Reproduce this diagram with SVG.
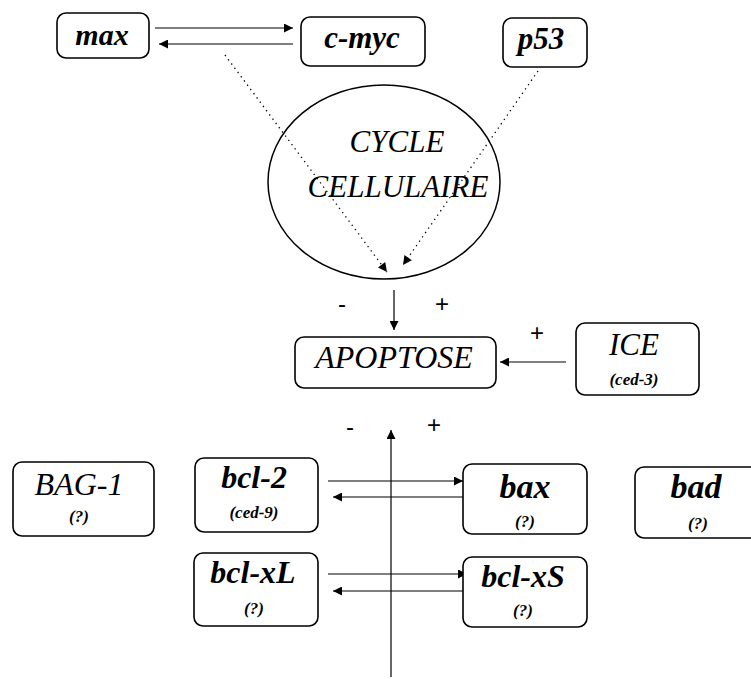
<svg xmlns="http://www.w3.org/2000/svg" width="751" height="679" viewBox="0 0 751 679">
<style>
.box{fill:#fff;stroke:#000;stroke-width:1.6}
.t{font-family:"Liberation Serif","Times New Roman",serif;font-style:italic;text-anchor:middle;fill:#000}
.b{font-weight:bold}
.big{font-size:31px}
.sm{font-size:17px;font-weight:bold}
.pm{font-family:"Liberation Sans",sans-serif;font-size:24px;text-anchor:middle;fill:#000}
.ln{stroke:#000;stroke-width:1.2;fill:none}
.dot{stroke:#000;stroke-width:1.3;fill:none;stroke-dasharray:1.3 4}
</style>
<defs>
<marker id="ah" viewBox="0 0 10 10" refX="10" refY="5" markerWidth="10" markerHeight="9" markerUnits="userSpaceOnUse" orient="auto">
<path d="M0,0 L10,5 L0,10 z" fill="#000"/>
</marker>
</defs>
<g id="connectors">
<line class="ln" x1="155" y1="28" x2="293" y2="28" marker-end="url(#ah)"/>
<line class="ln" x1="293" y1="44" x2="159" y2="44" marker-end="url(#ah)"/>
<line class="dot" x1="225" y1="55" x2="387" y2="272" marker-end="url(#ah)"/>
<line class="dot" x1="538" y1="71" x2="403" y2="265" marker-end="url(#ah)"/>
<line class="ln" x1="394" y1="290" x2="394" y2="330" marker-end="url(#ah)"/>
<line class="ln" x1="566" y1="362" x2="500" y2="362" marker-end="url(#ah)"/>
<line class="ln" x1="391" y1="677" x2="391" y2="430" marker-end="url(#ah)"/>
<line class="ln" x1="328" y1="481" x2="463" y2="481" marker-end="url(#ah)"/>
<line class="ln" x1="463" y1="497" x2="333" y2="497" marker-end="url(#ah)"/>
<line class="ln" x1="328" y1="574" x2="467" y2="574" marker-end="url(#ah)"/>
<line class="ln" x1="463" y1="591" x2="333" y2="591" marker-end="url(#ah)"/>
</g>
<g id="signs">
<text class="pm" x="342" y="312">-</text>
<text class="pm" x="442" y="312">+</text>
<text class="pm" x="537" y="341">+</text>
<text class="pm" x="350" y="435">-</text>
<text class="pm" x="434" y="433">+</text>
</g>
<g id="max"><rect class="box" x="57" y="13" width="92" height="45" rx="9"/><text class="t b" font-size="30" x="102" y="45">max</text></g>
<g id="c-myc"><rect class="box" x="301" y="17" width="124" height="49" rx="9"/><text class="t b big" x="362" y="48">c-myc</text></g>
<g id="p53"><rect class="box" x="503" y="18" width="84" height="49" rx="9"/><text class="t b big" x="541" y="49">p53</text></g>
<g id="cycle"><ellipse cx="384" cy="182" rx="116" ry="97" fill="none" stroke="#000" stroke-width="1.5"/><text class="t big" x="397" y="152">CYCLE</text><text class="t big" x="398" y="197">CELLULAIRE</text></g>
<g id="apoptose"><rect class="box" x="295" y="337" width="201" height="51" rx="9"/><text class="t" font-size="32" x="394" y="368">APOPTOSE</text></g>
<g id="ice"><rect class="box" x="576" y="323" width="123" height="72" rx="9"/><text class="t big" x="634" y="355">ICE</text><text class="t sm" x="634" y="385">(ced-3)</text></g>
<g id="bag-1"><rect class="box" x="13" y="462" width="141" height="74" rx="9"/><text class="t" font-size="32" x="79" y="495">BAG-1</text><text class="t sm" x="79" y="522">(?)</text></g>
<g id="bcl-2"><rect class="box" x="195" y="458" width="123" height="74" rx="9"/><text class="t b" font-size="32" x="254" y="488">bcl-2</text><text class="t sm" x="254" y="518">(ced-9)</text></g>
<g id="bax"><rect class="box" x="463" y="464" width="124" height="70" rx="9"/><text class="t b" font-size="34" x="525" y="498">bax</text><text class="t sm" x="525" y="527">(?)</text></g>
<g id="bad"><rect class="box" x="635" y="467" width="127" height="71" rx="9"/><text class="t b" font-size="34" x="696" y="498">bad</text><text class="t sm" x="698" y="529">(?)</text></g>
<g id="bcl-xL"><rect class="box" x="194" y="553" width="124" height="73" rx="9"/><text class="t b" font-size="32" x="253" y="583">bcl-xL</text><text class="t sm" x="254" y="614">(?)</text></g>
<g id="bcl-xS"><rect class="box" x="463" y="557" width="124" height="70" rx="9"/><text class="t b" font-size="32" x="523" y="587">bcl-xS</text><text class="t sm" x="523" y="616">(?)</text></g>
</svg>
